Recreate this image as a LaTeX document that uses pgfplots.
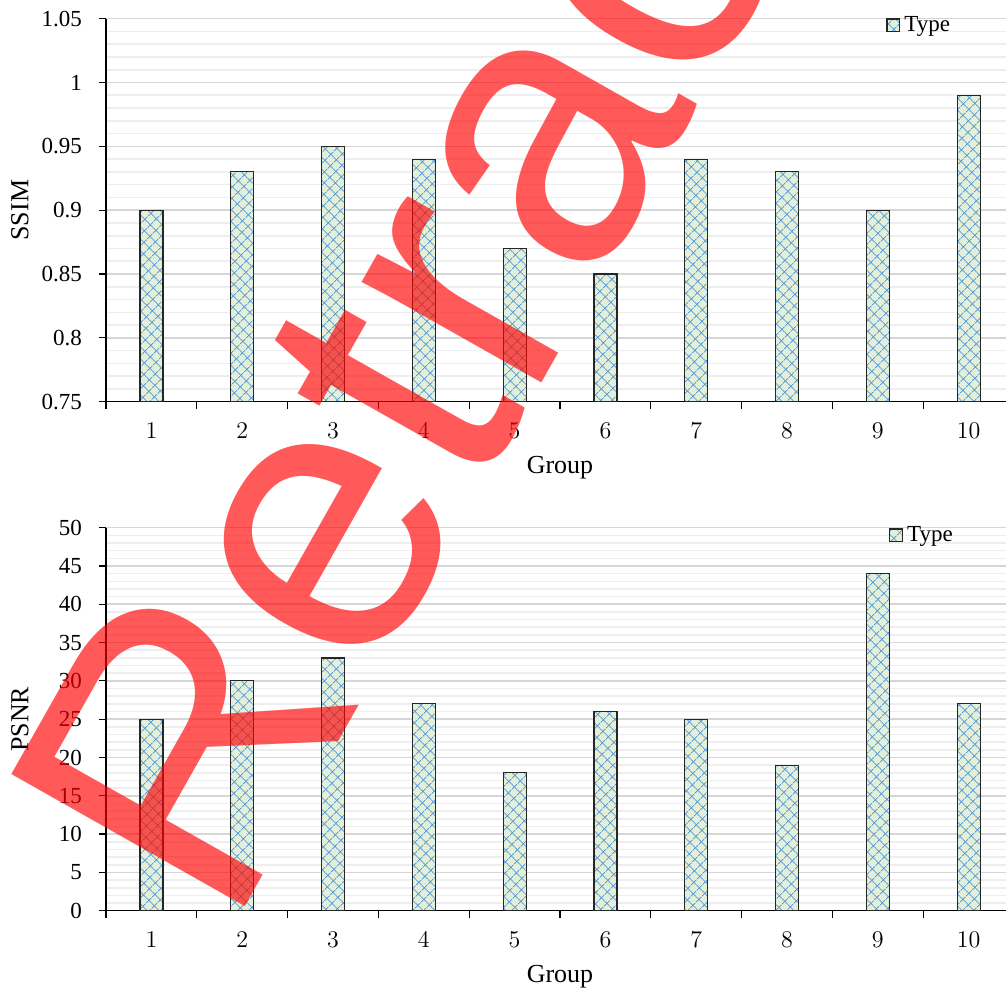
\documentclass[border=0pt]{standalone}
\usepackage{fontspec}
\setmainfont{Liberation Serif}
\newfontfamily\wmfont{Liberation Sans}
\usepackage{pgfplots}
\pgfplotsset{compat=1.18}
\usetikzlibrary{patterns.meta}
\definecolor{barfill}{HTML}{E2EFDA}
\definecolor{patblue}{HTML}{5B9BD5}
\definecolor{majgrid}{HTML}{D6D6D6}
\definecolor{mingrid}{HTML}{EEEEEE}
\pgfplotsset{
  chartbase/.style={
    scale only axis, width=454pt, height=191.5pt,
    xmin=0.5, xmax=10.5,
    axis lines*=left,
    axis line style={black, line width=0.8pt},
    xtick={1,...,10},
    minor xtick={0.5,1.5,...,10.5},
    tick align=outside,
    major tick length=3.5pt, minor tick length=3.5pt,
    major x tick style={draw=none},
    minor x tick style={draw=black, line width=0.6pt},
    minor y tick style={draw=none},
    major y tick style={draw=black, line width=0.6pt},
    ymajorgrids=true, yminorgrids=true,
    major grid style={draw=majgrid, line width=0.8pt},
    minor grid style={draw=mingrid, line width=0.8pt},
    minor y tick num=4,
    ybar, bar width=11.5pt,
    tick label style={font=\fontsize{11.5}{13}\selectfont},
    yticklabel style={xshift=-5pt},
    xticklabel style={yshift=-3.5pt},
    every axis x label/.style={at={(axis description cs:0.5,0)}, yshift=-33pt, anchor=center, font=\fontsize{13}{15}\selectfont},
    every axis y label/.style={at={(axis description cs:0,0.5)}, xshift=-43pt, rotate=90, anchor=center, font=\fontsize{13}{15}\selectfont},
    xlabel={Group},
    legend style={draw=none, fill=none, inner sep=0pt, anchor=west, font=\fontsize{11.5}{13}\selectfont},
  },
  mybar/.style={fill=barfill, draw=black!85, line width=0.6pt,
    postaction={pattern={Hatch[angle=45,distance=4pt,line width=0.45pt]}, pattern color=patblue},
    legend image code/.code={\draw[##1] (0pt,-3.2pt) rectangle (6.4pt,3.2pt);}},
}
\begin{document}
\begin{tikzpicture}
\begin{axis}[chartbase, at={(0pt,254.5pt)},
  ymin=0.75, ymax=1.05,
  ytick={0.75,0.8,0.85,0.9,0.95,1,1.05},
  yticklabels={0.75,0.8,0.85,0.9,0.95,1,1.05},
  ylabel={SSIM},
  legend style={at={(0.859,0.9825)}}]
\addplot[mybar] coordinates {(1,0.90) (2,0.93) (3,0.95) (4,0.94) (5,0.87) (6,0.85) (7,0.94) (8,0.93) (9,0.90) (10,0.99)};
\legend{Type}
\end{axis}
\begin{axis}[chartbase, at={(0pt,0pt)},
  ymin=0, ymax=50,
  ytick={0,5,10,15,20,25,30,35,40,45,50},
  yticklabels={0,5,10,15,20,25,30,35,40,45,50},
  ylabel={PSNR},
  legend style={at={(0.862,0.98)}}]
\addplot[mybar] coordinates {(1,25) (2,30) (3,33) (4,27) (5,18) (6,26) (7,25) (8,19) (9,44) (10,27)};
\legend{Type}
\end{axis}
\node[rotate=60.5, anchor=base west, inner sep=0pt, text=red, text opacity=0.65,
  font=\wmfont\fontsize{195}{195}\selectfont] at (61.5pt,-12pt) {Retracted};
\pgfresetboundingbox
\useasboundingbox (-53pt,-39.5pt) rectangle (450pt,455.35pt);
\end{tikzpicture}
\end{document}
